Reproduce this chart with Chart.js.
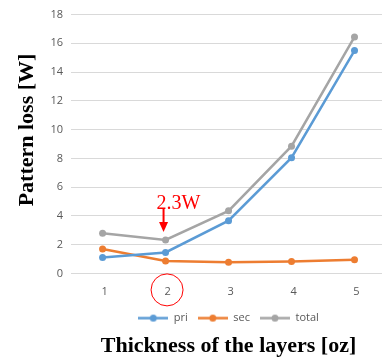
<!DOCTYPE html>
<html>
<head>
<meta charset="utf-8">
<script src="https://cdn.jsdelivr.net/npm/chart.js@4/dist/chart.umd.min.js"></script>
<style>
    html, body { margin: 0; padding: 0; background: #fff; overflow: hidden; }
    #wrap { width: 390px; height: 360px; }
</style>
</head>
<body>
<div id="wrap"><canvas id="chartLoss"></canvas></div>
<script>
const categories = ['1', '2', '3', '4', '5'];
const priLoss = [1.1, 1.46, 3.67, 8.05, 15.5];
const secLoss = [1.7, 0.86, 0.77, 0.82, 0.95];
const totalLoss = [2.8, 2.33, 4.35, 8.85, 16.45];
const yMin = 0;
const yMax = 18;
const yStep = 2;
const noteText = '2.3W';
const noteIndex = 1;

const COLORS = { pri: '#5B9BD5', sec: '#ED7D31', total: '#A5A5A5' };

// small line+dot swatch for the legend, like the spreadsheet legend
function legendSwatch(color) {
    const c = document.createElement('canvas');
    c.width = 30;
    c.height = 9;
    const g = c.getContext('2d');
    g.strokeStyle = color;
    g.lineWidth = 2.5;
    g.beginPath();
    g.moveTo(0, 4.5);
    g.lineTo(30, 4.5);
    g.stroke();
    g.fillStyle = color;
    g.beginPath();
    g.arc(15, 4.5, 3.5, 0, Math.PI * 2);
    g.fill();
    return c;
}

const overlayPlugin = {
    id: 'overlay',
    afterDraw(chart) {
        const { ctx, scales: { x, y } } = chart;
        ctx.save();

        // y axis title
        ctx.save();
        ctx.translate(32.5, 130);
        ctx.rotate(-Math.PI / 2);
        ctx.font = 'bold 22px "Liberation Serif"';
        ctx.fillStyle = '#000';
        ctx.textAlign = 'center';
        ctx.textBaseline = 'alphabetic';
        ctx.fillText('Pattern loss [W]', 0, 0);
        ctx.restore();

        // arrow + note
        const px = x.getPixelForValue(noteIndex) - 2;
        const tip = y.getPixelForValue(totalLoss[noteIndex]) - 8;
        ctx.strokeStyle = '#FF0000';
        ctx.fillStyle = '#FF0000';
        ctx.lineWidth = 2;
        ctx.beginPath();
        ctx.moveTo(px, tip - 23);
        ctx.lineTo(px, tip - 8);
        ctx.stroke();
        ctx.beginPath();
        ctx.moveTo(px - 4.5, tip - 10);
        ctx.lineTo(px + 4.5, tip - 10);
        ctx.lineTo(px, tip);
        ctx.closePath();
        ctx.fill();

        ctx.font = '20px "Liberation Serif"';
        ctx.textAlign = 'left';
        ctx.textBaseline = 'alphabetic';
        ctx.fillText(noteText, px - 7, tip - 23);

        // circle round the tick label
        ctx.lineWidth = 1;
        ctx.beginPath();
        ctx.arc(x.getPixelForValue(noteIndex) + 1.5, x.top + 16.5, 16, 0, Math.PI * 2);
        ctx.stroke();

        ctx.restore();
    }
};

const ctx = document.getElementById('chartLoss').getContext('2d');
new Chart(ctx, {
    type: 'line',
    data: {
        labels: categories,
        datasets: [
            { label: 'pri', data: priLoss, borderColor: COLORS.pri, backgroundColor: COLORS.pri },
            { label: 'sec', data: secLoss, borderColor: COLORS.sec, backgroundColor: COLORS.sec },
            { label: 'total', data: totalLoss, borderColor: COLORS.total, backgroundColor: COLORS.total }
        ]
    },
    options: {
        responsive: true,
        maintainAspectRatio: false,
        animation: false,
        elements: {
            line: { borderWidth: 2.5, tension: 0 },
            point: { radius: 3.5, borderWidth: 0, hoverRadius: 4 }
        },
        layout: { padding: { left: 42.5, right: 2.7, top: 14, bottom: 0 } },
        scales: {
            x: {
                offset: true,
                grid: { display: false },
                border: { display: false },
                ticks: {
                    color: '#595959',
                    font: { family: '"Open Sans"', size: 11 },
                    padding: 4,
                    labelOffset: 2
                }
            },
            y: {
                min: yMin,
                max: yMax,
                grid: { color: '#D9D9D9', lineWidth: 1, drawTicks: false },
                border: { display: false },
                ticks: {
                    stepSize: yStep,
                    color: '#595959',
                    font: { family: '"Open Sans"', size: 11 },
                    padding: 8
                }
            }
        },
        plugins: {
            tooltip: { enabled: false },
            legend: {
                position: 'bottom',
                fullSize: false,
                labels: {
                    color: '#595959',
                    font: { family: '"Open Sans"', size: 11 },
                    usePointStyle: true,
                    pointStyleWidth: 30,
                    padding: 10,
                    generateLabels(chart) {
                        return chart.data.datasets.map((ds, i) => ({
                            text: ds.label,
                            fontColor: '#595959',
                            pointStyle: legendSwatch(ds.borderColor),
                            lineWidth: 0,
                            strokeStyle: ds.borderColor,
                            fillStyle: ds.borderColor,
                            hidden: false,
                            datasetIndex: i
                        }));
                    }
                }
            },
            title: {
                display: true,
                position: 'bottom',
                fullSize: false,
                text: 'Thickness of the layers [oz]',
                color: '#000',
                font: { family: '"Liberation Serif"', size: 22, weight: 'bold', lineHeight: 1.2 },
                padding: { top: 0, bottom: 0 }
            }
        }
    },
    plugins: [overlayPlugin]
});
</script>
</body>
</html>
